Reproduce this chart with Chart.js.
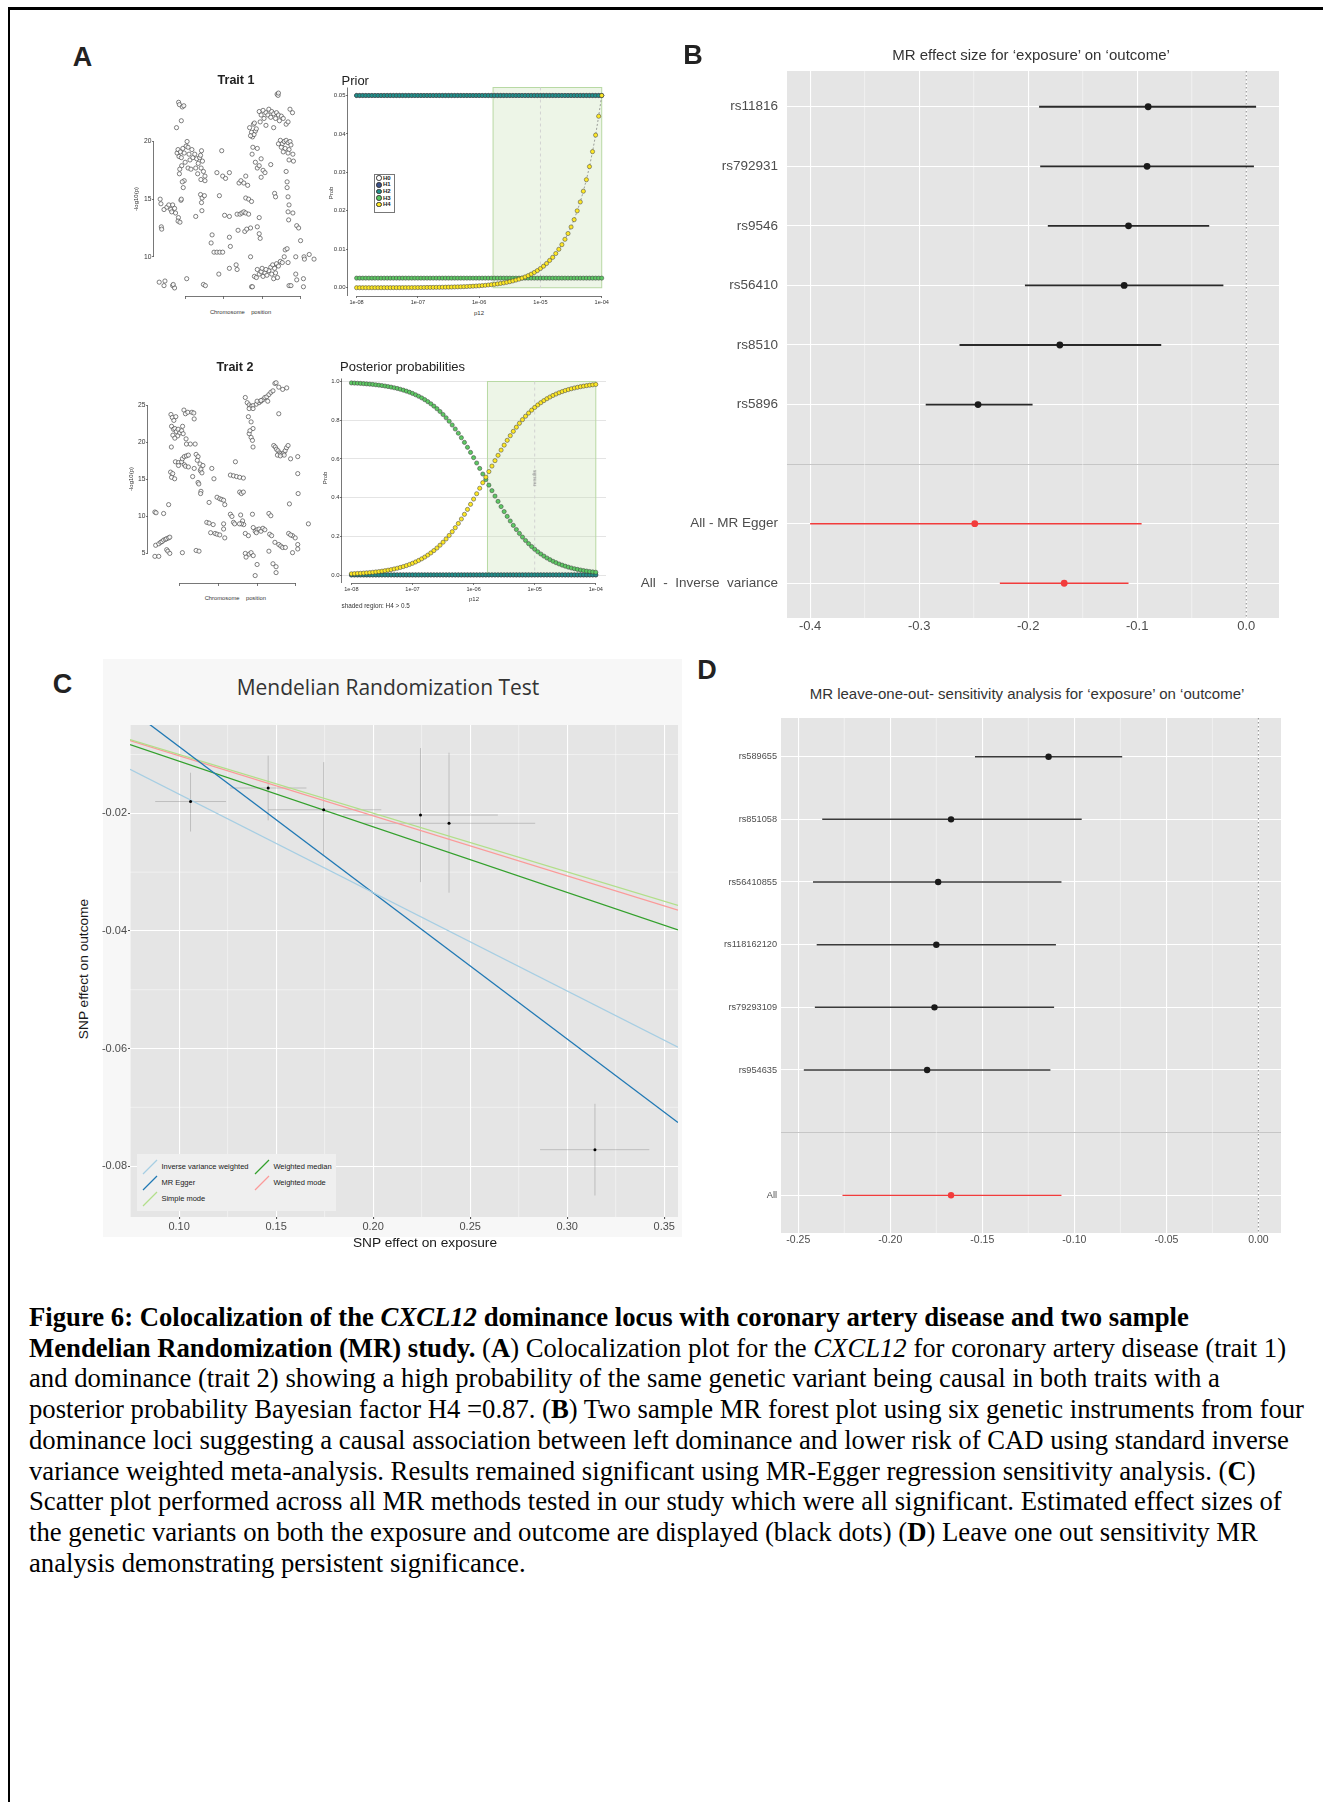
<!DOCTYPE html>
<html>
<head>
<meta charset="utf-8">
<title>Figure 6</title>
<script src="https://cdn.jsdelivr.net/npm/chart.js@4.4.1/dist/chart.umd.min.js"></script>
<style>
  html, body { margin: 0; padding: 0; background: #fff; }
  body { position: relative; width: 1323px; height: 1802px; overflow: hidden; font-family: "Liberation Sans", Arial, sans-serif; color: #222; }
  canvas { position: absolute; }
  .lbl { position: absolute; white-space: pre; line-height: 1; z-index: 3; }
  .frame { position: absolute; background: #000; }
  #caption { position: absolute; left: 29px; top: 1302px; font-family: "Liberation Serif", "Times New Roman", serif; font-size: 26.7px; line-height: 30.7px; white-space: pre; color: #000; }
</style>
</head>
<body>
<div class="frame" style="left:8px;top:7px;width:1315px;height:3px"></div>
<div class="frame" style="left:8px;top:7px;width:2px;height:1795px"></div>
<div style="position:absolute;left:103px;top:659px;width:579px;height:578px;background:#f7f7f7"></div>
<div id="caption"><b>Figure 6: Colocalization of the <i>CXCL12</i> dominance locus with coronary artery disease and two sample
Mendelian Randomization (MR) study.</b> (<b>A</b>) Colocalization plot for the <i>CXCL12</i> for coronary artery disease (trait 1)
and dominance (trait 2) showing a high probability of the same genetic variant being causal in both traits with a
posterior probability Bayesian factor H4 =0.87. (<b>B</b>) Two sample MR forest plot using six genetic instruments from four
dominance loci suggesting a causal association between left dominance and lower risk of CAD using standard inverse
variance weighted meta-analysis. Results remained significant using MR-Egger regression sensitivity analysis. (<b>C</b>)
Scatter plot performed across all MR methods tested in our study which were all significant. Estimated effect sizes of
the genetic variants on both the exposure and outcome are displayed (black dots) (<b>D</b>) Leave one out sensitivity MR
analysis demonstrating persistent significance.</div>
<script>
// ---------------- data: panel A (colocalization) ----------------
// [chromosome position (arbitrary units), -log10(p)]
const trait1Snps = [
  [7,15.0],[7.4,14.6],[7.6,12.6],[7.8,12.4],[6.5,7.8],[9.5,7.9],[9,7.5],[13.5,7.5],[14.5,7.3],[13.8,7.6],[20.8,8.1],
  [9,14.1],[10.5,14.3],[11.5,14.5],[12.5,14.1],[13.5,14.5],[14.5,14.2],[13,13.9],[15,13.8],[16.5,13.4],[16.3,13.1],[17.3,13.0],[17.8,14.9],[18,15.0],
  [15.8,19.0],[16.3,19.3],[16.8,18.7],[17.5,19.1],[18,18.6],[18.8,19.4],[19.5,19.0],[20,18.2],[20.5,19.6],[21,20.0],[21.5,19.5],[22,18.9],[22.5,18.4],
  [23.5,19.3],[24,18.6],[25,18.9],[26,18.5],[26.8,18.1],[27.5,18.6],[28,18.8],[28.5,19.2],[29,18.3],[18.2,17.9],[17.2,17.6],[17,17.2],[19.5,16.6],
  [18.5,16.5],[19,16.0],[21.5,17.7],[23,17.6],[25.5,17.7],[26.5,17.2],[28.3,17.7],[29.5,17.4],[30.3,17.0],[28.2,16.7],
  [16.6,23.4],[17,23.2],[18.5,23.0],[19.3,23.1],[18,21.8],[15.5,21.2],
  [25.5,13.5],[28,15.4],[28.8,15.1],[30,15.3],[28.5,14.7],[28.7,14.0],[30.3,16.6],
  [29.5,7.6],[30.5,7.5],[33.5,11.2],[34,11.9],[35,10.4],[36.5,10.4],[38,10.4],[39.5,10.4],[37.5,8.5],[37.8,15.3],[39,19.2],[36.5,17.3],[39.5,17.0],[41,16.8],[43,17.3],
  [40.5,13.6],[43,13.5],[43,11.7],[43.5,10.9],[43,9.0],[46.5,9.3],[47,8.9],
  [48,16.4],[49,16.6],[50.5,16.4],[52.5,16.2],[51.5,17.0],
  [47,13.7],[48.5,13.7],[49.5,13.8],[50.5,13.9],[51.5,13.8],[53,13.7],[47.5,12.3],[51,12.2],[52,12.4],[51.5,15.1],[53,15.0],[54.5,14.8],
  [54,12.5],[54,10.0],[54.5,7.4],[57.5,12.6],[58.5,12.0],[59,11.6],[58.5,13.4],
  [53.5,21.2],[54.5,20.8],[55,20.4],[55.5,21.5],[56.5,20.9],[57,21.1],[55.8,20.6],[54,20.5],[56,21.6],[55.2,19.5],[54.8,18.9],[57.5,19.4],[56.5,18.2],
  [57.5,17.7],[58.5,17.9],[59.5,18.5],[60.5,17.5],[61.5,17.3],[59.5,16.9],
  [58.5,22.6],[59.5,22.3],[60.5,22.7],[61,22.0],[62,22.5],[63,22.3],[63.5,22.8],[64.5,22.1],[65,22.6],[66,22.4],[67,22.0],[67.5,22.5],[68.5,22.3],
  [69,21.8],[70,22.2],[71,22.0],[59,21.7],[62,21.4],[66,21.2],[72.5,21.5],[73.5,21.7],
  [67.8,24.1],[68.3,24.0],[68.5,24.2],[74.5,22.8],[75.8,22.5],[64.5,18.0],
  [68.5,19.8],[69.5,20.1],[70.5,19.8],[71.5,20.0],[72.5,20.1],[73.5,19.9],[74.5,20.0],[75,19.7],[70,19.5],[72,19.4],[74,19.3],[71,19.1],[73.5,19.0],
  [74,18.4],[76,18.9],[76.3,18.3],
  [72.5,17.4],[73,16.5],[73,16.0],[73.5,15.2],[74,14.5],[73.5,13.9],[73.8,13.2],[76,13.8],[66.5,15.5],[67,15.2],
  [57.5,8.9],[58.5,8.5],[59.5,8.7],[60.5,8.3],[61.5,8.6],[62.5,8.4],[63.5,8.8],[64.5,9.1],[65.5,9.3],[66.5,9.0],[67.5,9.4],[68.5,9.2],[69.5,9.6],
  [70.5,9.5],[60,9.0],[62,8.9],[65,8.5],[66,8.1],[56,8.3],[57,8.2],[55,7.4],[68,8.2],[67,8.6],
  [72,10.6],[73,10.7],[71.5,10.0],[73.5,9.5],
  [78,12.7],[79,12.5],[80,11.4],[77.5,10.0],[77.5,8.5],[78,8.0],[81.5,8.1],[81.5,7.4],[74,7.5],[75,7.5],
  [81.8,10.0],[84.5,10.2],[87,9.8],[82,9.8]
];
const trait2Snps = [
  [7.2,10.6],[7.8,10.5],[11.7,10.4],[7.2,4.6],[9.2,4.6],
  [7.6,6.1],[9.2,6.3],[10.2,6.5],[10.9,6.6],[11.7,6.8],[12.7,6.9],[13.3,7.0],[14.3,7.1],[14.9,7.2],
  [14.3,11.6],[13.3,5.5],[13.9,5.3],[14.9,5.0],[21.4,5.1],[28.5,5.4],[30.0,5.3],
  [15.5,23.8],[16.2,23.4],[17,23.0],[18,23.5],[15.8,22.2],[16.8,21.8],[17.5,21.9],[18.3,21.5],[19.2,21.8],[20,21.3],[21,21.6],[21.8,21.2],
  [16.5,21.0],[19,20.9],[21.5,22.2],[17.5,20.6],
  [22.2,24.4],[23,23.9],[24.2,24.1],[26.3,24.1],[27.3,24.0],[27.5,23.2],
  [23.3,20.5],[23.5,19.8],[25.5,19.8],[28,19.8],[15.7,19.4],
  [15.3,16.0],[15.8,15.3],[17.4,15.1],[16.4,15.8],[17.8,17.4],[19.4,17.3],[21,17.4],[21.4,17.8],[22.4,18.1],[23.5,18.2],[24.5,18.3],[19.4,16.9],
  [22.4,17.0],[23,16.8],[24.5,16.7],[28.5,18.4],[29.5,18.1],[29.1,17.6],[30.5,17.1],[27.5,16.5],[26.7,15.4],[30.7,16.2],[31,16.4],[32,16.9],[31.5,15.9],
  [29.5,14.6],[29.9,14.4],[31,13.4],[30.8,13.1],
  [36.6,16.5],[37.7,15.1],[35.2,11.9],
  [39.3,12.6],[40.7,12.4],[41.7,12.3],[42.7,12.2],[43.3,11.6],
  [34,9.2],[35.2,9.1],[37.3,8.9],[36,7.8],[38.3,7.7],[39.3,7.6],[40.7,7.5],[43.3,7.1],[42.7,8.3],[42.7,9.0],
  [46.2,10.3],[47,10.0],[47.8,9.2],[48.4,9.0],[48.8,17.4],
  [46.2,15.6],[47.8,15.5],[49.4,15.4],[51,15.3],[52.9,15.2],
  [51,13.3],[51.9,13.1],[52.9,13.3],
  [51.5,10.2],[52.5,9.4],[53.1,8.9],[51.9,9.0],[50.9,9.0],
  [53.9,7.7],[55.5,7.4],[57.6,10.3],
  [53.9,5.0],[54.3,4.5],[55.9,4.9],[56.9,5.1],[58,4.7],
  [60,3.5],[59,2.0],[68.2,3.6],[69.8,3.2],[69.8,2.4],
  [58,8.5],[59,8.0],[60,8.2],[61,8.3],[62,8.0],[63,8.4],[64,8.2],[59.6,7.8],
  [66.1,10.4],[67.1,10.1],[66.5,7.6],[67.5,7.4],[69.2,6.5],[71.2,6.2],[72.2,6.0],[73.2,5.8],[74.6,5.8],[66.1,5.3],
  [53.9,26.1],[54.9,25.4],[55.9,25.1],[56.9,24.9],[57.9,25.0],[59.6,25.2],[61,25.4],[62,25.6],[63,25.8],[64,26.1],[65,26.2],[66.1,26.5],
  [67.1,26.8],[68.2,27.0],[69.2,28.0],[69.8,28.1],[71.2,27.5],[73.2,27.2],[75.3,27.4],[55.9,24.6],[57.9,24.6],[60,25.6],[62,25.7],[65.5,25.6],
  [55.5,23.5],[56.9,22.8],[57.9,21.9],[55.9,21.2],[56.9,20.7],[56.3,21.6],[57.6,20.3],[57.9,19.4],[71.2,23.9],
  [68.6,19.6],[69.4,19.4],[70,19.1],[70.8,18.9],[71.5,18.6],[72.2,18.5],[73,18.4],[73.8,18.6],[74.5,18.9],[75.2,19.3],[76,19.6],
  [70.5,18.3],[72,18.2],[74,18.3],
  [77.3,17.8],[81,18.1],[76.7,11.7],[81,15.8],[81.2,13.1],
  [78.3,7.4],[79.7,7.1],[81,6.2],[81,5.6],[78.3,5.1],[76.3,7.7],[77.3,7.5],[86.5,9.0]
];
const chromTicks = [20, 40, 60, 80];
const trait1Ticks = [10, 15, 20];
const trait2Ticks = [5, 10, 15, 20, 25];

// p12 grid (log10) and hypothesis probabilities
const p12Log = [-8, -7.95, -7.9, -7.85, -7.8, -7.75, -7.7, -7.65, -7.6, -7.55, -7.5, -7.45, -7.4, -7.35, -7.3, -7.25, -7.2, -7.15, -7.1, -7.05,
  -7, -6.95, -6.9, -6.85, -6.8, -6.75, -6.7, -6.65, -6.6, -6.55, -6.5, -6.45, -6.4, -6.35, -6.3, -6.25, -6.2, -6.15, -6.1, -6.05,
  -6, -5.95, -5.9, -5.85, -5.8, -5.75, -5.7, -5.65, -5.6, -5.55, -5.5, -5.45, -5.4, -5.35, -5.3, -5.25, -5.2, -5.15, -5.1, -5.05,
  -5, -4.95, -4.9, -4.85, -4.8, -4.75, -4.7, -4.65, -4.6, -4.55, -4.5, -4.45, -4.4, -4.35, -4.3, -4.25, -4.2, -4.15, -4.1, -4.05, -4];
const p12Ticks = [-8, -7, -6, -5, -4];
const priorH1 = [
  0.05, 0.05, 0.05, 0.05, 0.05, 0.05, 0.05, 0.05, 0.05, 0.05, 0.05, 0.05, 0.05, 0.05, 0.05, 0.05, 0.05, 0.05, 0.05, 0.05,
  0.05, 0.05, 0.05, 0.05, 0.05, 0.05, 0.05, 0.05, 0.05, 0.05, 0.05, 0.05, 0.05, 0.05, 0.05, 0.05, 0.05, 0.05, 0.05, 0.05,
  0.05, 0.05, 0.05, 0.05, 0.05, 0.05, 0.05, 0.05, 0.05, 0.05, 0.05, 0.05, 0.05, 0.05, 0.05, 0.05, 0.05, 0.05, 0.05, 0.05,
  0.05, 0.05, 0.05, 0.05, 0.05, 0.05, 0.05, 0.05, 0.05, 0.05, 0.05, 0.05, 0.05, 0.05, 0.05, 0.05, 0.05, 0.05, 0.05, 0.05, 0.05];
const priorH2 = [
  0.05, 0.05, 0.05, 0.05, 0.05, 0.05, 0.05, 0.05, 0.05, 0.05, 0.05, 0.05, 0.05, 0.05, 0.05, 0.05, 0.05, 0.05, 0.05, 0.05,
  0.05, 0.05, 0.05, 0.05, 0.05, 0.05, 0.05, 0.05, 0.05, 0.05, 0.05, 0.05, 0.05, 0.05, 0.05, 0.05, 0.05, 0.05, 0.05, 0.05,
  0.05, 0.05, 0.05, 0.05, 0.05, 0.05, 0.05, 0.05, 0.05, 0.05, 0.05, 0.05, 0.05, 0.05, 0.05, 0.05, 0.05, 0.05, 0.05, 0.05,
  0.05, 0.05, 0.05, 0.05, 0.05, 0.05, 0.05, 0.05, 0.05, 0.05, 0.05, 0.05, 0.05, 0.05, 0.05, 0.05, 0.05, 0.05, 0.05, 0.05, 0.05];
const priorH3 = [
  0.0025, 0.0025, 0.0025, 0.0025, 0.0025, 0.0025, 0.0025, 0.0025, 0.0025, 0.0025, 0.0025, 0.0025, 0.0025, 0.0025, 0.0025, 0.0025, 0.0025, 0.0025, 0.0025, 0.0025,
  0.0025, 0.0025, 0.0025, 0.0025, 0.0025, 0.0025, 0.0025, 0.0025, 0.0025, 0.0025, 0.0025, 0.0025, 0.0025, 0.0025, 0.0025, 0.0025, 0.0025, 0.0025, 0.0025, 0.0025,
  0.0025, 0.0025, 0.0025, 0.0025, 0.0025, 0.0025, 0.0025, 0.0025, 0.0025, 0.0025, 0.0025, 0.0025, 0.0025, 0.0025, 0.0025, 0.0025, 0.0025, 0.0025, 0.0025, 0.0025,
  0.0025, 0.0025, 0.0025, 0.0025, 0.0025, 0.0025, 0.0025, 0.0025, 0.0025, 0.0025, 0.0025, 0.0025, 0.0025, 0.0025, 0.0025, 0.0025, 0.0025, 0.0025, 0.0025, 0.0025, 0.0025];
const priorH4 = [
  0.000005, 0.0000056, 0.0000063, 0.0000071, 0.0000079, 0.0000089, 0.00001, 0.0000112, 0.0000126, 0.0000141,
  0.0000158, 0.0000177, 0.00002, 0.0000223, 0.0000251, 0.0000281, 0.0000315, 0.0000354, 0.0000397, 0.0000446,
  0.00005, 0.000056, 0.000063, 0.000071, 0.000079, 0.000089, 0.0001, 0.000112, 0.000126, 0.000141,
  0.000158, 0.000177, 0.0002, 0.000223, 0.000251, 0.000281, 0.000315, 0.000354, 0.000397, 0.000446,
  0.0005, 0.00056, 0.00063, 0.00071, 0.00079, 0.00089, 0.001, 0.00112, 0.00126, 0.00141,
  0.00158, 0.00177, 0.002, 0.00223, 0.00251, 0.00281, 0.00315, 0.00354, 0.00397, 0.00446,
  0.005, 0.0056, 0.0063, 0.0071, 0.0079, 0.0089, 0.01, 0.0112, 0.0126, 0.0141,
  0.0158, 0.0177, 0.02, 0.0223, 0.0251, 0.0281, 0.0315, 0.0354, 0.0397, 0.0446, 0.05];
const postH1 = [
  0.0002, 0.0002, 0.0002, 0.0002, 0.0002, 0.0002, 0.0002, 0.0002, 0.0002, 0.0002, 0.0002, 0.0002, 0.0002, 0.0002, 0.0002, 0.0002, 0.0002, 0.0002, 0.0002, 0.0002,
  0.0002, 0.0002, 0.0002, 0.0002, 0.0002, 0.0002, 0.0002, 0.0002, 0.0002, 0.0002, 0.0002, 0.0002, 0.0002, 0.0002, 0.0002, 0.0002, 0.0002, 0.0002, 0.0002, 0.0002,
  0.0002, 0.0002, 0.0002, 0.0002, 0.0002, 0.0002, 0.0002, 0.0002, 0.0002, 0.0002, 0.0002, 0.0002, 0.0002, 0.0002, 0.0002, 0.0002, 0.0002, 0.0002, 0.0002, 0.0002,
  0.0002, 0.0002, 0.0002, 0.0002, 0.0002, 0.0002, 0.0002, 0.0002, 0.0002, 0.0002, 0.0002, 0.0002, 0.0002, 0.0002, 0.0002, 0.0002, 0.0002, 0.0002, 0.0002, 0.0002, 0.0002];
const postH2 = [
  0.0008, 0.0008, 0.0008, 0.0008, 0.0008, 0.0008, 0.0008, 0.0008, 0.0008, 0.0008, 0.0008, 0.0008, 0.0008, 0.0008, 0.0008, 0.0008, 0.0008, 0.0008, 0.0008, 0.0008,
  0.0008, 0.0008, 0.0008, 0.0008, 0.0008, 0.0008, 0.0008, 0.0008, 0.0008, 0.0008, 0.0008, 0.0008, 0.0008, 0.0008, 0.0008, 0.0008, 0.0008, 0.0008, 0.0008, 0.0008,
  0.0008, 0.0008, 0.0008, 0.0008, 0.0008, 0.0008, 0.0008, 0.0008, 0.0008, 0.0008, 0.0008, 0.0008, 0.0008, 0.0008, 0.0008, 0.0008, 0.0008, 0.0008, 0.0008, 0.0008,
  0.0008, 0.0008, 0.0008, 0.0008, 0.0008, 0.0008, 0.0008, 0.0008, 0.0008, 0.0008, 0.0008, 0.0008, 0.0008, 0.0008, 0.0008, 0.0008, 0.0008, 0.0008, 0.0008, 0.0008, 0.0008];
const postH3 = [
  0.9926, 0.9918, 0.9909, 0.9900, 0.9889, 0.9876, 0.9863, 0.9848, 0.9830, 0.9811, 0.9790, 0.9766, 0.9739, 0.9710, 0.9677, 0.9640, 0.9599, 0.9553, 0.9502, 0.9446,
  0.9383, 0.9315, 0.9238, 0.9154, 0.9062, 0.8960, 0.8849, 0.8727, 0.8594, 0.8450, 0.8294, 0.8126, 0.7945, 0.7751, 0.7545, 0.7326, 0.7095, 0.6853, 0.6600, 0.6337,
  0.6067, 0.5789, 0.5506, 0.5220, 0.4932, 0.4645, 0.4360, 0.4079, 0.3804, 0.3536, 0.3278, 0.3029, 0.2791, 0.2565, 0.2351, 0.2149, 0.1961, 0.1785, 0.1622, 0.1470,
  0.1331, 0.1203, 0.1086, 0.0978, 0.0880, 0.0791, 0.0710, 0.0637, 0.0571, 0.0511, 0.0457, 0.0408, 0.0364, 0.0325, 0.0290, 0.0258, 0.0230, 0.0204, 0.0181, 0.0161, 0.0143];
const postH4 = [
  0.0064, 0.0072, 0.0081, 0.0090, 0.0101, 0.0114, 0.0127, 0.0142, 0.0160, 0.0179, 0.0200, 0.0224, 0.0251, 0.0280, 0.0313, 0.0350, 0.0391, 0.0437, 0.0488, 0.0544,
  0.0607, 0.0675, 0.0752, 0.0836, 0.0928, 0.1030, 0.1141, 0.1263, 0.1396, 0.1540, 0.1696, 0.1864, 0.2045, 0.2239, 0.2445, 0.2664, 0.2895, 0.3137, 0.3390, 0.3653,
  0.3923, 0.4201, 0.4484, 0.4770, 0.5058, 0.5345, 0.5630, 0.5911, 0.6186, 0.6454, 0.6712, 0.6961, 0.7199, 0.7425, 0.7639, 0.7841, 0.8029, 0.8205, 0.8368, 0.8520,
  0.8659, 0.8787, 0.8904, 0.9012, 0.9110, 0.9199, 0.9280, 0.9353, 0.9419, 0.9479, 0.9533, 0.9582, 0.9626, 0.9665, 0.9700, 0.9732, 0.9760, 0.9786, 0.9809, 0.9829, 0.9847];
const shadeStartLog = -5.773;   // p12 where posterior H4 passes 0.5
const hypNames = ['H0', 'H1', 'H2', 'H3', 'H4'];
const hypColors = ['#ffffff', '#3b528b', '#21908c', '#5dc863', '#fde725'];

// ---------------- data: panel B ----------------
const snpB = ['rs11816', 'rs792931', 'rs9546', 'rs56410', 'rs8510', 'rs5896'];
const betaB = [-0.090, -0.091, -0.108, -0.112, -0.171, -0.246];
const loB = [-0.190, -0.189, -0.182, -0.203, -0.263, -0.294];
const hiB = [0.009, 0.007, -0.034, -0.021, -0.078, -0.196];
const methodB = ['All - MR Egger', 'All  -  Inverse  variance'];
const methodBetaB = [-0.249, -0.167];
const methodLoB = [-0.400, -0.226];
const methodHiB = [-0.096, -0.108];
const ticksB = [-0.4, -0.3, -0.2, -0.1, 0];
const minorB = [-0.35, -0.25, -0.15, -0.05];

// ---------------- data: panel C ----------------
const snpExposure = [0.1059, 0.1459, 0.1745, 0.2244, 0.2391, 0.3143];
const snpOutcome = [-0.0180, -0.0157, -0.0194, -0.0203, -0.0217, -0.0772];
const exposureLo = [0.0877, 0.1263, 0.1459, 0.1845, 0.1947, 0.2860];
const exposureHi = [0.1242, 0.1656, 0.2042, 0.2643, 0.2835, 0.3423];
const outcomeLo = [-0.0231, -0.0212, -0.0272, -0.0317, -0.0335, -0.0850];
const outcomeHi = [-0.0131, -0.0102, -0.0113, -0.0089, -0.0097, -0.0694];
const methodNames = ['Inverse variance weighted', 'MR Egger', 'Simple mode', 'Weighted median', 'Weighted mode'];
const methodSlope = [-0.1674, -0.2486, -0.0999, -0.1115, -0.1021];
const methodIntercept = [0, 0.0162, 0, 0, 0];
const methodColors = ['#a6cee3', '#1f78b4', '#b2df8a', '#33a02c', '#fb9a99'];
const ticksCx = [0.10, 0.15, 0.20, 0.25, 0.30, 0.35];
const minorCx = [0.075, 0.125, 0.175, 0.225, 0.275, 0.325];
const ticksCy = [-0.08, -0.06, -0.04, -0.02];
const minorCy = [-0.07, -0.05, -0.03, -0.01];

// ---------------- data: panel D ----------------
const snpD = ['rs589655', 'rs851058', 'rs56410855', 'rs118162120', 'rs79293109', 'rs954635'];
const betaD = [-0.114, -0.167, -0.174, -0.175, -0.176, -0.180];
const loD = [-0.154, -0.237, -0.242, -0.240, -0.241, -0.247];
const hiD = [-0.074, -0.096, -0.107, -0.110, -0.111, -0.113];
const allBetaD = [-0.167];
const allLoD = [-0.226];
const allHiD = [-0.107];
const ticksD = [-0.25, -0.2, -0.15, -0.1, -0.05, 0];
const minorD = [-0.225, -0.175, -0.125, -0.075, -0.025];

// ---------------- helpers ----------------
const SANS = '"Liberation Sans", Arial, sans-serif';
const RED = '#f23c3c';
Chart.defaults.animation = false;
Chart.defaults.responsive = false;
Chart.defaults.devicePixelRatio = 1;
Chart.defaults.events = [];
Chart.defaults.font.family = SANS;
Chart.defaults.plugins.legend.display = false;
Chart.defaults.plugins.tooltip.enabled = false;

const fit = (size) => (s) => {
  if (s.isHorizontal()) s.height = size; else s.width = size;
  s.paddingLeft = 0; s.paddingRight = 0; s.paddingTop = 0; s.paddingBottom = 0;
};
const setTicks = (vals) => (s) => { s.ticks = vals.map(v => ({ value: v })); };

function makeChart(area, yw, xh, pt, pr, config) {
  const cv = document.createElement('canvas');
  cv.width = yw + area.r - area.l + pr;
  cv.height = pt + area.b - area.t + xh;
  cv.style.left = (area.l - yw) + 'px';
  cv.style.top = (area.t - pt) + 'px';
  document.body.appendChild(cv);
  config.options.layout = { padding: { top: pt, right: pr, left: 0, bottom: 0 } };
  config.options.scales.x.afterFit = fit(xh);
  config.options.scales.y.afterFit = fit(yw);
  return new Chart(cv, config);
}

function addText(str, x, y, css, mode) {
  const d = document.createElement('div');
  d.className = 'lbl';
  d.textContent = str;
  d.style.cssText += css;
  d.style.left = x + 'px';
  d.style.top = y + 'px';
  const tf = { c: 'translate(-50%,-50%)', l: 'translate(0,-50%)', v: 'translate(-50%,-50%) rotate(-90deg)' };
  d.style.transform = tf[mode || 'c'];
  document.body.appendChild(d);
  return d;
}

// base-R style axis lines
const rAxes = {
  id: 'rAxes',
  beforeDatasetsDraw(chart, args, o) {
    const c = chart.ctx, a = chart.chartArea, xs = chart.scales.x, ys = chart.scales.y;
    c.save();
    c.strokeStyle = '#555'; c.lineWidth = 0.8;
    c.beginPath();
    const xt = xs.ticks;
    c.moveTo(xs.getPixelForValue(xt[0].value), a.bottom + 0.5);
    c.lineTo(xs.getPixelForValue(xt[xt.length - 1].value), a.bottom + 0.5);
    if (o.ySpan === 'ticks') {
      const yt = ys.ticks;
      c.moveTo(a.left - 0.5, ys.getPixelForValue(yt[0].value));
      c.lineTo(a.left - 0.5, ys.getPixelForValue(yt[yt.length - 1].value));
    } else {
      c.moveTo(a.left - 0.5, a.top);
      c.lineTo(a.left - 0.5, a.bottom);
    }
    c.stroke();
    c.restore();
  }
};
const panelBg = {
  id: 'panelBg',
  beforeDraw(chart, args, o) {
    const c = chart.ctx, a = chart.chartArea;
    c.save(); c.fillStyle = o.color; c.fillRect(a.left, a.top, a.right - a.left, a.bottom - a.top); c.restore();
  }
};
const minorGrid = {
  id: 'minorGrid',
  beforeDatasetsDraw(chart, args, o) {
    const c = chart.ctx, a = chart.chartArea;
    c.save(); c.strokeStyle = 'rgba(255,255,255,0.75)'; c.lineWidth = 0.6; c.beginPath();
    (o.x || []).forEach(v => { const p = chart.scales.x.getPixelForValue(v); c.moveTo(p, a.top); c.lineTo(p, a.bottom); });
    (o.y || []).forEach(v => { const p = chart.scales.y.getPixelForValue(v); c.moveTo(a.left, p); c.lineTo(a.right, p); });
    c.stroke(); c.restore();
  }
};
const zeroLine = {
  id: 'zeroLine',
  beforeDatasetsDraw(chart) {
    const c = chart.ctx, a = chart.chartArea, p = chart.scales.x.getPixelForValue(0);
    c.save(); c.strokeStyle = '#8a8a8a'; c.lineWidth = 1; c.setLineDash([1.5, 2.5]);
    c.beginPath(); c.moveTo(p, a.top); c.lineTo(p, a.bottom); c.stroke(); c.restore();
  }
};
const shade = {
  id: 'shade',
  beforeDatasetsDraw(chart, args, o) {
    const c = chart.ctx, xs = chart.scales.x, ys = chart.scales.y;
    const x0 = xs.getPixelForValue(o.from), x1 = xs.getPixelForValue(o.to);
    const y0 = ys.getPixelForValue(o.top === 'max' ? ys.max : o.top), y1 = ys.getPixelForValue(o.bottom);
    c.save();
    c.fillStyle = 'rgba(200,225,180,0.32)';
    c.fillRect(x0, y0, x1 - x0, y1 - y0);
    c.strokeStyle = '#b8d9a4'; c.lineWidth = 1;
    c.strokeRect(x0, y0, x1 - x0, y1 - y0);
    const xm = xs.getPixelForValue(o.mark);
    c.setLineDash([3, 3]); c.strokeStyle = '#d2d2d2';
    c.beginPath(); c.moveTo(xm, y0); c.lineTo(xm, y1); c.stroke();
    c.restore();
  }
};

// ---------------- panel A: regional scatter plots ----------------
function traitChart(area, pts, xr, yr, yTicks) {
  return makeChart(area, 24, 12, 4, 4, {
    type: 'scatter',
    data: { datasets: [{
      data: pts.map(p => ({ x: p[0], y: p[1] })),
      pointRadius: 2.1, pointBorderWidth: 0.7,
      pointBorderColor: '#4a4a4a', pointBackgroundColor: 'rgba(255,255,255,0.8)'
    }] },
    options: {
      plugins: { rAxes: { ySpan: 'ticks' } },
      scales: {
        x: { type: 'linear', min: xr[0], max: xr[1], afterBuildTicks: setTicks(chromTicks),
             border: { display: false },
             grid: { drawOnChartArea: false, tickLength: 3, tickColor: '#555', tickWidth: 0.8 },
             ticks: { callback: () => '', autoSkip: false } },
        y: { type: 'linear', min: yr[0], max: yr[1], afterBuildTicks: setTicks(yTicks),
             border: { display: false },
             grid: { drawOnChartArea: false, tickLength: 2, tickColor: '#555', tickWidth: 0.8 },
             ticks: { font: { size: 6.7 }, color: '#333', padding: 0.5, autoSkip: false } }
      }
    },
    plugins: [rAxes]
  });
}
traitChart({ l: 154, t: 88, r: 318, b: 296 }, trait1Snps, [3.8, 88.7], [6.6, 24.58], trait1Ticks);
traitChart({ l: 148, t: 375, r: 318, b: 583 }, trait2Snps, [3.64, 91.1], [0.995, 29.05], trait2Ticks);

// ---------------- panel A: prior / posterior ----------------
const series = (vals) => p12Log.map((x, i) => ({ x, y: vals[i] }));
const hypDots = (vals, h, r) => ({
  data: series(vals), pointRadius: r || 2.1, pointBorderWidth: 0.5,
  pointBorderColor: '#3a3a3a', pointBackgroundColor: hypColors[h]
});
function colocChart(area, sets, xr, yr, yTicks, yFmt, gridOn, shadeOpt) {
  return makeChart(area, 24, 14, 4, 6, {
    type: 'scatter',
    data: { datasets: sets },
    options: {
      plugins: { rAxes: { ySpan: 'full' }, shade: shadeOpt },
      scales: {
        x: { type: 'linear', min: xr[0], max: xr[1], afterBuildTicks: setTicks(p12Ticks),
             border: { display: false },
             grid: { drawOnChartArea: false, tickLength: 2, tickColor: '#555', tickWidth: 0.8 },
             ticks: { font: { size: 5.6 }, color: '#333', padding: 1, autoSkip: false, maxRotation: 0,
                      callback: v => '1e-0' + (-v) } },
        y: { type: 'linear', min: yr[0], max: yr[1], afterBuildTicks: setTicks(yTicks),
             border: { display: false },
             grid: { drawOnChartArea: gridOn, color: '#e4e4e4', lineWidth: 1, tickLength: 2, tickColor: '#555', tickWidth: 0.8 },
             ticks: { font: { size: 6 }, color: '#333', padding: 0.5, autoSkip: false, callback: yFmt } }
      }
    },
    plugins: [shade, rAxes]
  });
}
colocChart({ l: 348, t: 87, r: 610, b: 296 }, [
  hypDots(priorH4, 4),
  hypDots(priorH2, 2),
  hypDots(priorH1, 1),
  hypDots(priorH3, 3),
  { data: series(priorH4), showLine: true, pointRadius: 0, borderColor: '#777', borderWidth: 0.7, borderDash: [2, 2] }
], [-8.14, -3.865], [-0.00215, 0.05208], [0, 0.01, 0.02, 0.03, 0.04, 0.05], v => v.toFixed(2), false,
  { from: shadeStartLog, to: -4, top: 'max', bottom: 0, mark: -5 });

colocChart({ l: 342, t: 378, r: 606, b: 583 }, [
  hypDots(postH4, 4),
  hypDots(postH3, 3),
  hypDots(postH2, 2),
  hypDots(postH1, 1)
], [-8.154, -3.833], [-0.0412, 1.0155], [0, 0.2, 0.4, 0.6, 0.8, 1.0], v => v.toFixed(1), true,
  { from: shadeStartLog, to: -4, top: 1, bottom: 0, mark: -5 });

// ---------------- forest plots (B, D) ----------------
const ciLine = (lo, hi, row, color, w) => ({
  data: [{ x: lo, y: row }, { x: hi, y: row }], showLine: true, borderColor: color, borderWidth: w, pointRadius: 0
});
function forestChart(area, yw, labels, sepRow, sets, xr, yr, xTicks, xFmt, minor, labelSize, tickSize, labelGap) {
  return makeChart(area, yw, 24, 0, 6, {
    type: 'scatter',
    data: { datasets: sets },
    options: {
      plugins: { panelBg: { color: '#e5e5e5' }, minorGrid: { x: minor } },
      scales: {
        x: { type: 'linear', min: xr[0], max: xr[1], afterBuildTicks: setTicks(xTicks),
             border: { display: false },
             grid: { color: '#ffffff', lineWidth: 1.1, tickLength: 1, tickColor: 'rgba(0,0,0,0)' },
             ticks: { font: { size: tickSize }, color: '#4d4d4d', padding: 0, autoSkip: false, maxRotation: 0, callback: xFmt } },
        y: { type: 'linear', reverse: true, min: yr[0], max: yr[1],
             afterBuildTicks: setTicks(labels.map((_, i) => i + 1)),
             border: { display: false },
             grid: { color: ctx => (ctx.tick && ctx.tick.value === sepRow) ? '#c6c6c6' : '#ffffff',
                     lineWidth: 1.1, tickLength: 1, tickColor: 'rgba(0,0,0,0)' },
             ticks: { font: { size: labelSize }, color: '#4d4d4d', padding: labelGap, autoSkip: false,
                      callback: v => labels[v - 1] } }
      }
    },
    plugins: [panelBg, minorGrid, zeroLine]
  });
}

const rowLabelsB = snpB.concat([''], methodB);
const sepRowB = snpB.length + 1;
forestChart({ l: 787, t: 67, r: 1279, b: 618 }, 160, rowLabelsB, sepRowB, [
  { data: betaB.map((b, i) => ({ x: b, y: i + 1 })), pointRadius: 3.4, pointBackgroundColor: '#1a1a1a', pointBorderWidth: 0 },
  { data: methodBetaB.map((b, i) => ({ x: b, y: sepRowB + 1 + i })), pointRadius: 3.4, pointBackgroundColor: RED, pointBorderWidth: 0 },
  ...betaB.map((b, i) => ciLine(loB[i], hiB[i], i + 1, '#2a2a2a', 1.8)),
  ...methodBetaB.map((b, i) => ciLine(methodLoB[i], methodHiB[i], sepRowB + 1 + i, RED, 1.5))
], [-0.4212, 0.030], [0.4, 9.583], ticksB, v => v.toFixed(1), minorB, 13.5, 13, 8);

const rowLabelsD = snpD.concat([''], ['All']);
const sepRowD = snpD.length + 1;
forestChart({ l: 781, t: 714, r: 1281, b: 1233 }, 120, rowLabelsD, sepRowD, [
  { data: betaD.map((b, i) => ({ x: b, y: i + 1 })), pointRadius: 3.2, pointBackgroundColor: '#1a1a1a', pointBorderWidth: 0 },
  { data: allBetaD.map((b, i) => ({ x: b, y: sepRowD + 1 + i })), pointRadius: 3.2, pointBackgroundColor: RED, pointBorderWidth: 0 },
  ...betaD.map((b, i) => ciLine(loD[i], hiD[i], i + 1, '#3a3a3a', 1.5)),
  ...allBetaD.map((b, i) => ciLine(allLoD[i], allHiD[i], sepRowD + 1 + i, RED, 1.3))
], [-0.2594, 0.0123], [0.382, 8.602], ticksD, v => v.toFixed(2), minorD, 9.2, 10.5, 3);

// ---------------- panel C: MR scatter ----------------
const cxMin = 0.0747, cxMax = 0.3571;
const errColor = 'rgba(110,110,110,0.32)';
makeChart({ l: 130, t: 721, r: 681, b: 1217 }, 30, 22, 0, 1, {
  type: 'scatter',
  data: { datasets: [
    { data: snpExposure.map((x, i) => ({ x, y: snpOutcome[i] })), pointRadius: 1.5, pointBackgroundColor: '#000', pointBorderWidth: 0 },
    ...methodNames.map((m, i) => ({
      data: [cxMin, cxMax].map(x => ({ x, y: methodIntercept[i] + methodSlope[i] * x })),
      showLine: true, borderColor: methodColors[i], borderWidth: 1.3, pointRadius: 0
    })),
    ...snpExposure.map((x, i) => ({ data: [{ x: exposureLo[i], y: snpOutcome[i] }, { x: exposureHi[i], y: snpOutcome[i] }],
      showLine: true, borderColor: errColor, borderWidth: 1, pointRadius: 0 })),
    ...snpExposure.map((x, i) => ({ data: [{ x, y: outcomeLo[i] }, { x, y: outcomeHi[i] }],
      showLine: true, borderColor: errColor, borderWidth: 1, pointRadius: 0 }))
  ] },
  options: {
    plugins: { panelBg: { color: '#e5e5e5' }, minorGrid: { x: minorCx, y: minorCy } },
    scales: {
      x: { type: 'linear', min: cxMin, max: cxMax, afterBuildTicks: setTicks(ticksCx),
           border: { display: false },
           grid: { color: '#ffffff', lineWidth: 1.1, tickLength: 2, tickColor: '#555' },
           ticks: { font: { size: 11 }, color: '#4d4d4d', padding: 1, autoSkip: false, maxRotation: 0, callback: v => v.toFixed(2) } },
      y: { type: 'linear', min: -0.08865, max: -0.004986, afterBuildTicks: setTicks(ticksCy),
           border: { display: false },
           grid: { color: '#ffffff', lineWidth: 1.1, tickLength: 2, tickColor: '#555' },
           ticks: { font: { size: 11 }, color: '#4d4d4d', padding: 1, autoSkip: false, callback: v => v.toFixed(2) } }
    }
  },
  plugins: [panelBg, minorGrid]
});

// legend of panel C
(function () {
  const box = document.createElement('div');
  box.style.cssText = 'position:absolute;left:137px;top:1154px;width:199px;height:57px;background:#efefef;z-index:2';
  document.body.appendChild(box);
  const cols = [[0, 1, 2], [3, 4]];
  const colX = [[141.5, 161.4], [253.5, 273.4]];
  const rowY = [1167.3, 1183.3, 1199.3];
  cols.forEach((list, ci) => list.forEach((m, ri) => {
    const s = document.createElementNS('http://www.w3.org/2000/svg', 'svg');
    s.setAttribute('width', '16'); s.setAttribute('height', '16');
    s.style.cssText = 'position:absolute;z-index:3;left:' + colX[ci][0] + 'px;top:' + (rowY[ri] - 8) + 'px';
    const ln = document.createElementNS('http://www.w3.org/2000/svg', 'line');
    ln.setAttribute('x1', '1'); ln.setAttribute('y1', '15'); ln.setAttribute('x2', '15'); ln.setAttribute('y2', '1');
    ln.setAttribute('stroke', methodColors[m]); ln.setAttribute('stroke-width', '1.2');
    s.appendChild(ln);
    document.body.appendChild(s);
    addText(methodNames[m], colX[ci][1], rowY[ri], 'font-size:7.5px;color:#1a1a1a;', 'l');
  }));
})();

// legend of prior plot
(function () {
  const box = document.createElement('div');
  box.style.cssText = 'position:absolute;left:373.6px;top:174px;width:19.5px;height:36.7px;background:#fff;border:0.6px solid #777;z-index:2';
  document.body.appendChild(box);
  hypNames.forEach((h, i) => {
    const y = 177.7 + i * 6.65;
    const dot = document.createElement('div');
    dot.style.cssText = 'position:absolute;z-index:3;width:3.6px;height:3.6px;border-radius:50%;border:0.6px solid #333;left:376px;top:' + (y - 2.4) + 'px;background:' + hypColors[i];
    document.body.appendChild(dot);
    addText(h, 383, y, 'font-size:6px;font-weight:bold;color:#222;', 'l');
  });
})();

// ---------------- text ----------------
const letterCss = 'font-size:27px;font-weight:bold;color:#222;';
addText('A', 82.5, 57, letterCss);
addText('B', 693, 55, letterCss);
addText('C', 62.4, 684, letterCss);
addText('D', 707, 670, letterCss);

addText('Trait 1', 236, 80, 'font-size:12.5px;font-weight:bold;color:#222;');
addText('Trait 2', 235, 367, 'font-size:12.5px;font-weight:bold;color:#222;');
addText('Prior', 341.5, 80, 'font-size:13px;color:#222;', 'l');
addText('Posterior probabilities', 340, 366, 'font-size:13px;color:#222;', 'l');
addText('-log10(p)', 136, 199, 'font-size:6px;color:#333;', 'v');
addText('-log10(p)', 131, 479, 'font-size:6px;color:#333;', 'v');
addText('Chromosome    position', 240.5, 313, 'font-size:5.8px;color:#333;');
addText('Chromosome    position', 235.3, 599.3, 'font-size:5.8px;color:#333;');
addText('Prob', 330.5, 192.5, 'font-size:6px;color:#333;', 'v');
addText('Prob', 325, 478, 'font-size:6px;color:#333;', 'v');
addText('p12', 479, 312.7, 'font-size:6px;color:#333;');
addText('p12', 474, 599.3, 'font-size:6px;color:#333;');
addText('shaded region: H4 > 0.5', 341.5, 606, 'font-size:6.4px;color:#333;', 'l');
addText('results', 534.5, 478, 'font-size:5.5px;color:#8a8a8a;', 'v');

addText('MR effect size for \u2018exposure\u2019 on \u2018outcome\u2019', 1031, 54, 'font-size:15px;color:#333;');
addText('MR leave-one-out- sensitivity analysis for \u2018exposure\u2019 on \u2018outcome\u2019', 1027, 693, 'font-size:15px;color:#333;');
addText('Mendelian Randomization Test', 388, 687, 'font-family:"Open Sans",sans-serif;font-size:21px;color:#333;');
addText('SNP effect on exposure', 425, 1243, 'font-size:13.7px;color:#1a1a1a;');
addText('SNP effect on outcome', 83.5, 969, 'font-size:13.7px;color:#1a1a1a;', 'v');
</script>
</body>
</html>
